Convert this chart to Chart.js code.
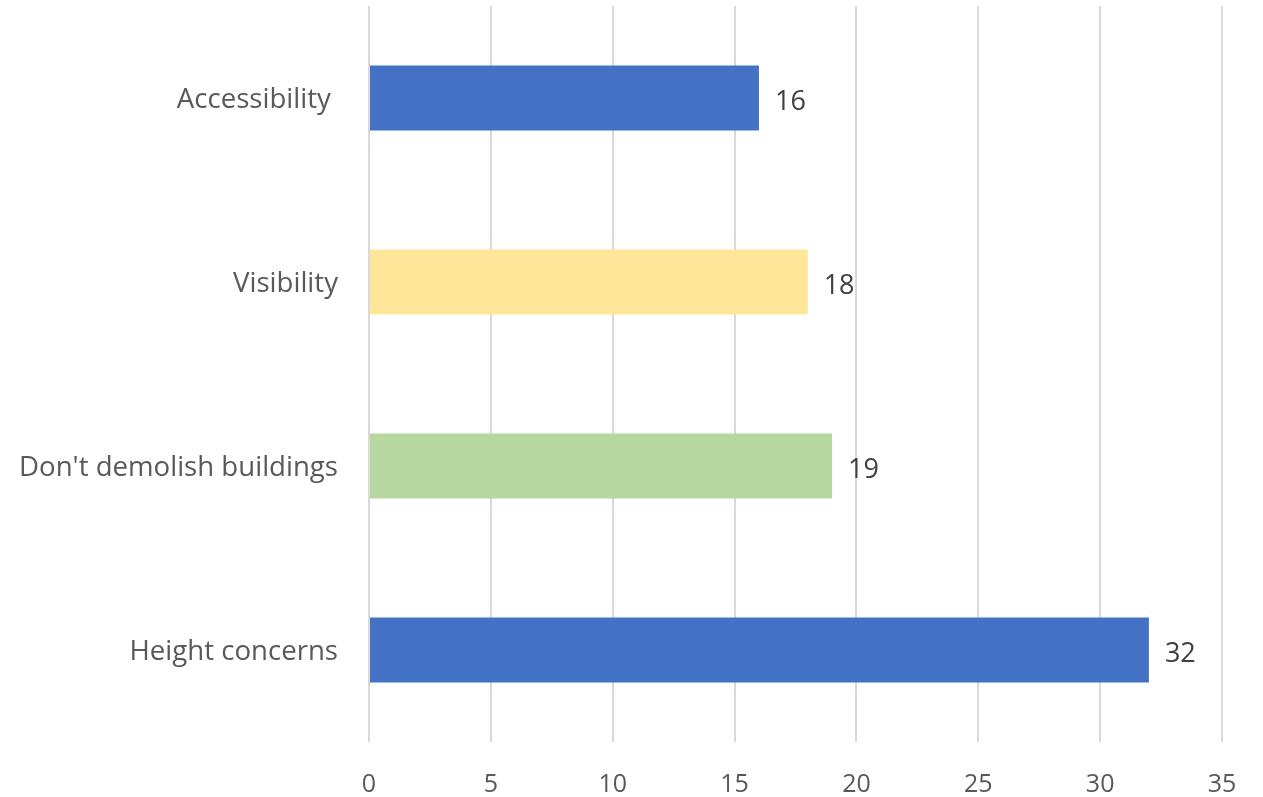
<!DOCTYPE html>
<html>
<head>
<meta charset="utf-8">
<script src="https://cdn.jsdelivr.net/npm/chart.js@4"></script>
<style>
  html, body { margin: 0; padding: 0; background: #ffffff; }
  #wrap { width: 1263px; height: 797px; position: relative; }
</style>
</head>
<body>
<div id="wrap"><canvas id="c" width="1263" height="797"></canvas></div>
<script>
const categories = ["Accessibility ", "Visibility", "Don't demolish buildings", "Height concerns"];
const values = [16, 18, 19, 32];
const barColors = ["#4472C4", "#FFE699", "#B7D7A0", "#4472C4"];
const xTicks = [0, 5, 10, 15, 20, 25, 30, 35];

const FONT = "'Open Sans', sans-serif";

const valueLabels = {
  id: 'valueLabels',
  afterDatasetsDraw(chart) {
    const ctx = chart.ctx;
    const meta = chart.getDatasetMeta(0);
    ctx.save();
    ctx.font = "27px " + FONT;
    ctx.fillStyle = "#404040";
    ctx.textAlign = "left";
    ctx.textBaseline = "middle";
    meta.data.forEach((bar, i) => {
      ctx.fillText(String(values[i]), bar.x + 16, bar.y + 4);
    });
    ctx.restore();
  }
};

new Chart(document.getElementById('c'), {
  type: 'bar',
  data: {
    labels: categories,
    datasets: [{
      data: values,
      backgroundColor: barColors,
      borderWidth: 0,
      barPercentage: 0.353,
      categoryPercentage: 1
    }]
  },
  options: {
    indexAxis: 'y',
    responsive: false,
    animation: false,
    devicePixelRatio: 1,
    layout: { padding: { top: 6, right: 41, left: 0, bottom: 0 } },
    plugins: { legend: { display: false }, tooltip: { enabled: false } },
    scales: {
      x: {
        min: 0, max: 35,
        afterBuildTicks(scale) { scale.ticks = xTicks.map(v => ({ value: v })); },
        grid: { color: "#D9D9D9", lineWidth: 2, drawTicks: false },
        border: { display: false },
        ticks: { color: "#595959", font: { family: FONT, size: 25 }, padding: 28, maxRotation: 0 },
        afterFit(scale) { scale.height = 55; scale.paddingLeft = 0; scale.paddingRight = 0; }
      },
      y: {
        grid: { display: false, drawTicks: false },
        border: { display: false },
        ticks: { color: "#595959", font: { family: FONT, size: 27.6 }, padding: 31, labelOffset: 2 },
        afterFit(scale) { scale.width = 369; scale.paddingTop = 0; scale.paddingBottom = 0; }
      }
    }
  },
  plugins: [valueLabels]
});
</script>
</body>
</html>
